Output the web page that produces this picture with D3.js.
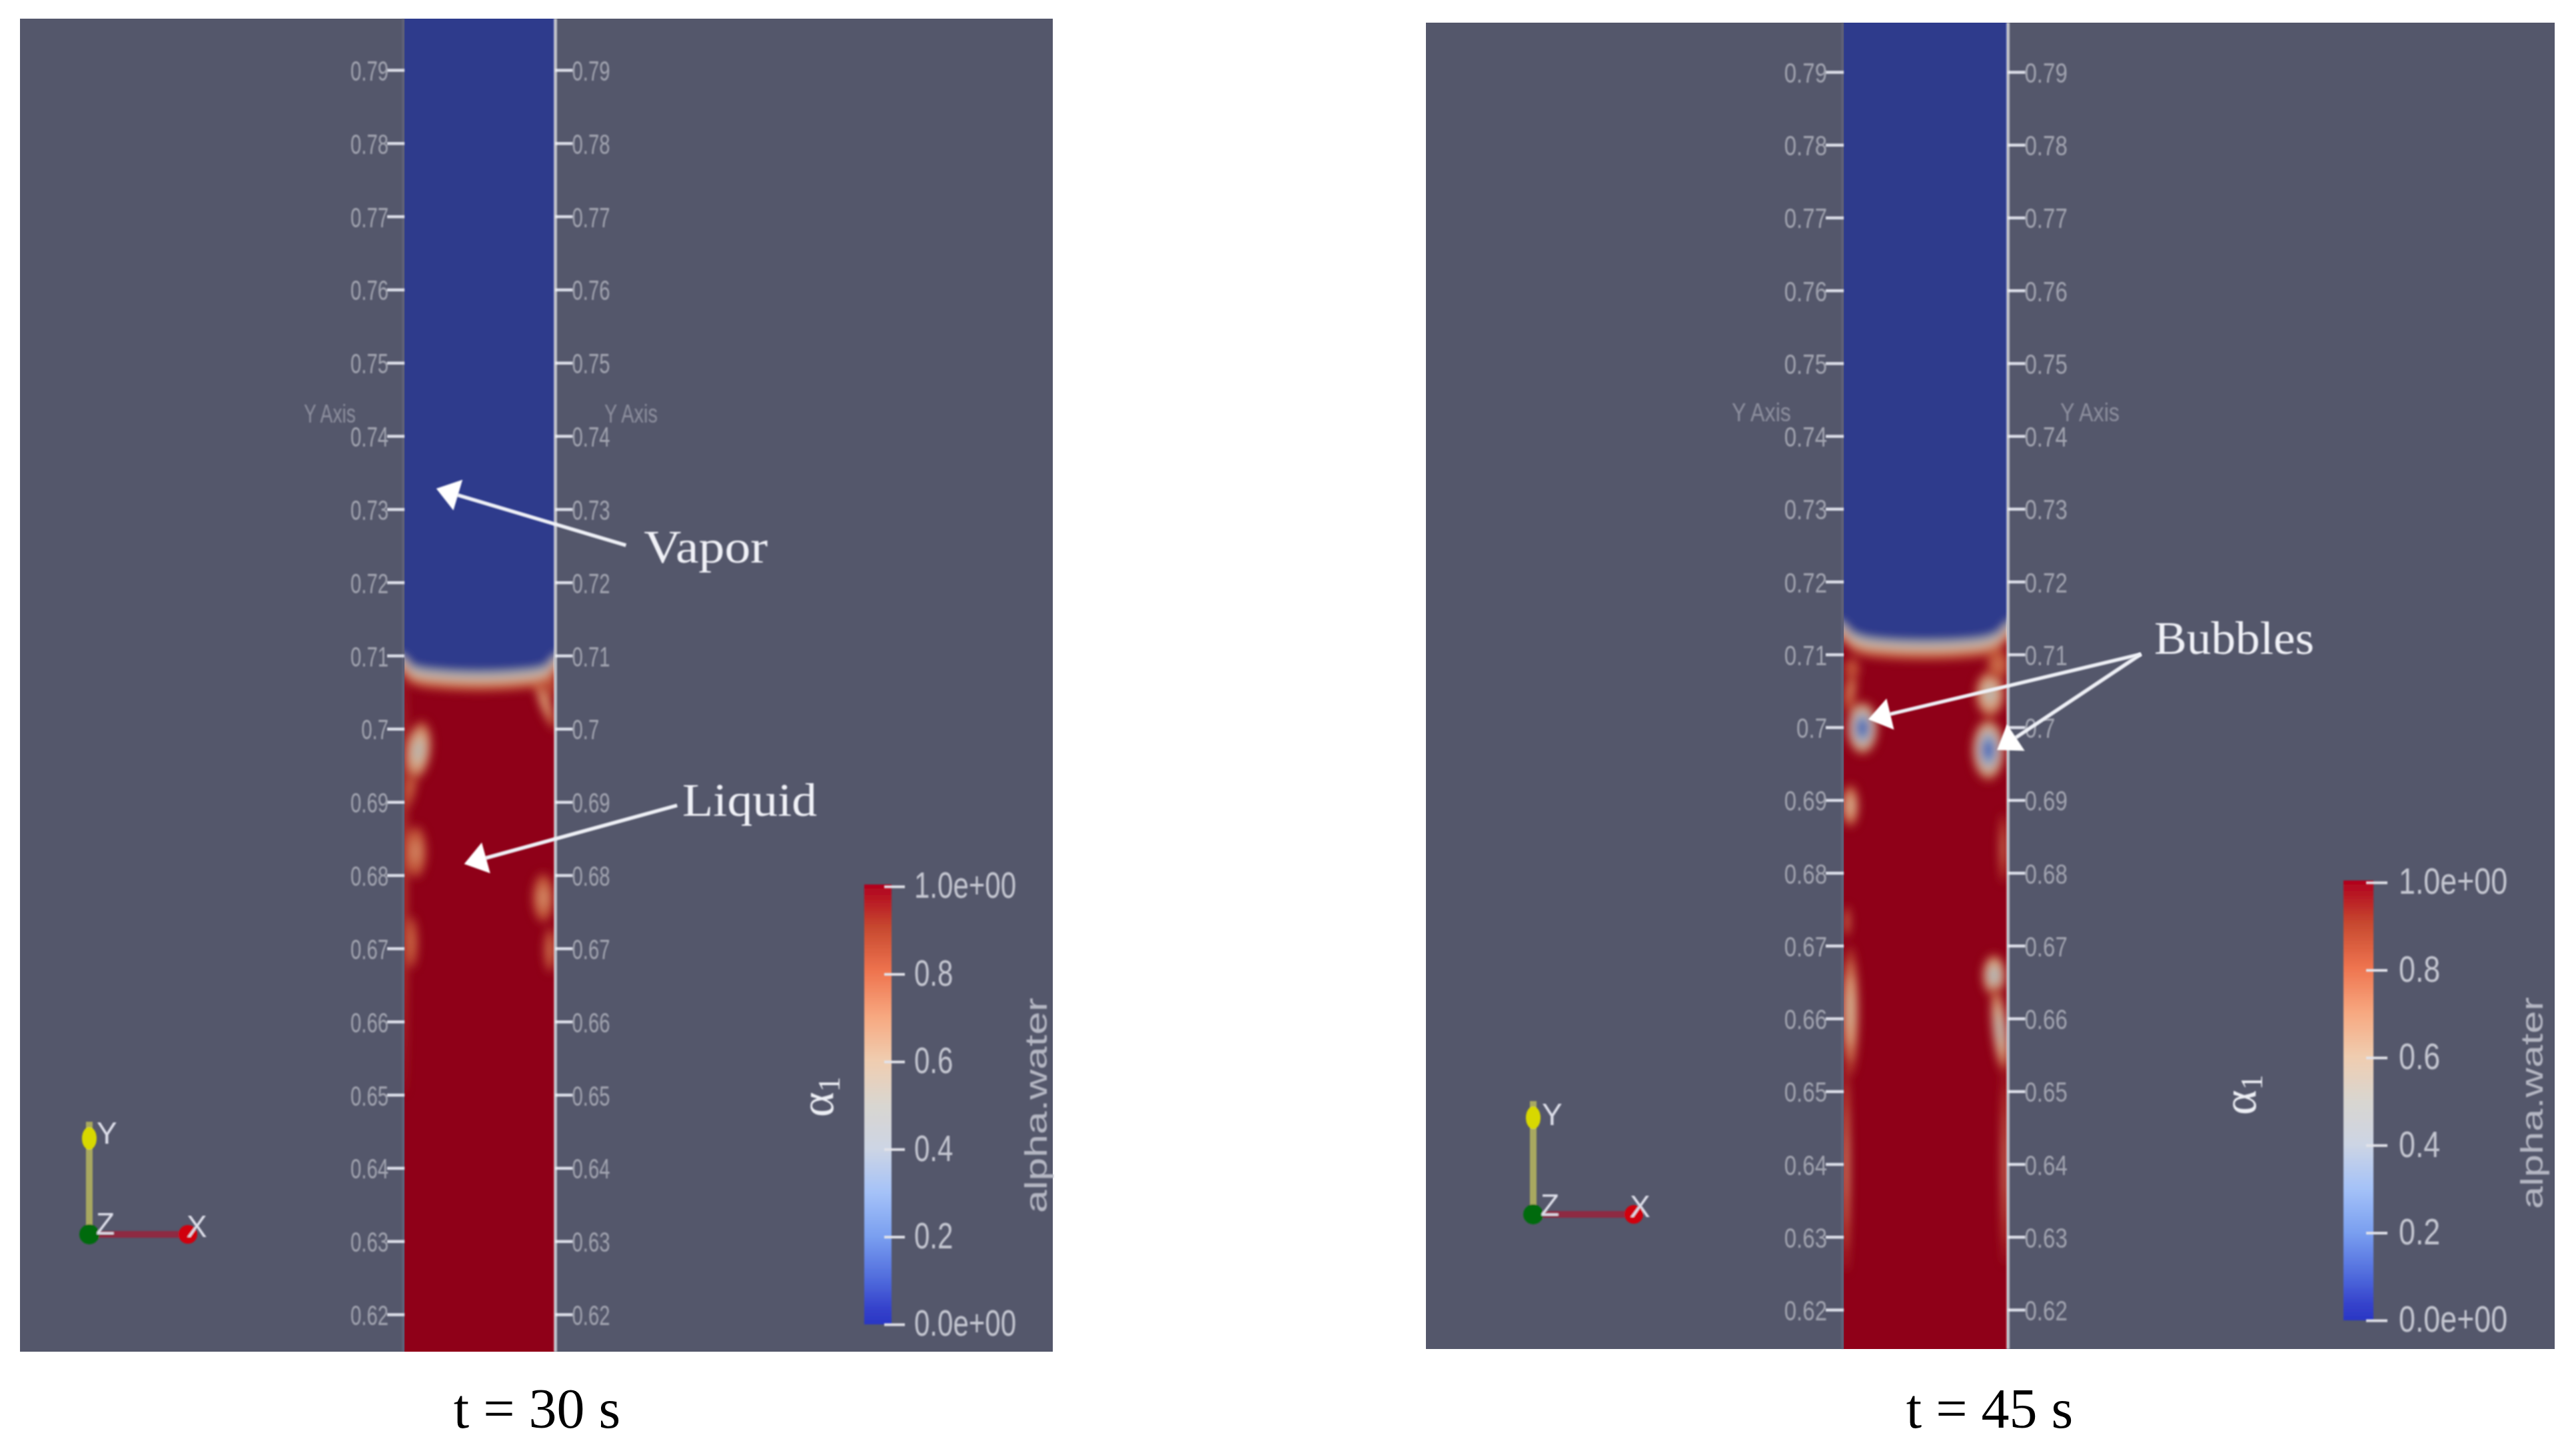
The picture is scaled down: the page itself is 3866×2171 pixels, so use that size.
<!DOCTYPE html>
<html><head><meta charset="utf-8">
<style>html,body{margin:0;padding:0;background:#fff}svg{display:block}</style>
<script src="https://cdn.jsdelivr.net/npm/d3@7/dist/d3.min.js"></script>
</head><body><svg id="c" width="3866" height="2171"></svg>
<script>
// ---- values ----
const yTickValues = [0.79,0.78,0.77,0.76,0.75,0.74,0.73,0.72,0.71,0.70,0.69,0.68,0.67,0.66,0.65,0.64,0.63,0.62];
const barTickValues = [0,0.2,0.4,0.6,0.8,1];
const barTickLabels = ["0.0e+00","0.2","0.4","0.6","0.8","1.0e+00"];
const barStops  = [0,0.04,0.1,0.2,0.3,0.4,0.5,0.6,0.7,0.8,0.9,1];
const barColors = ["#2a36c4","#3644cc","#4f6adc","#7a9ff0","#a5c2f8","#cdd5e4","#d9d6d0","#f0cdb0","#f7a880","#ef7550","#c84a30","#b0001e"];
const fieldLevels = [0,0.15,0.25,0.4,0.55,0.7,0.85,1];
const fieldColors = ["#2e3a8c","#4a6cc0","#6f90c8","#a3b0bb","#cbb8a0","#dba07c","#c4583a","#8f0018"];
// channel fraction, interface height
const ifaceX = [-0.1,0,0.05,0.2,0.5,0.8,0.95,1,1.1];
const ifaceA = [0.7105,0.7098,0.7086,0.7080,0.7077,0.7080,0.7086,0.7098,0.7105];
const ifaceB = [0.7150,0.7142,0.7130,0.7121,0.7118,0.7121,0.7130,0.7142,0.7150];
const bandOffsets = [-0.0026,-0.0015,-0.0007];
const bandAlphas  = [0.84,0.62,0.42];
// [x fraction, y, x radius, y radius, lowest alpha, tilt]
const blobsA = [
 [0.05,0.6925,0.035,0.0034,0.82,10],[0.093,0.6970,0.09,0.0042,0.47,8],[0.076,0.6832,0.075,0.0036,0.76,0],
 [0.05,0.6708,0.042,0.0036,0.82,0],[0.93,0.6769,0.075,0.0034,0.75,0],[0.975,0.6698,0.042,0.0031,0.8,0],
 [0.94,0.7036,0.042,0.0040,0.7,-20],[0.985,0.7065,0.03,0.0024,0.82,0],[0.0,0.68,0.016,0.03,0.82,0]];
const blobsB = [
 [0.115,0.6999,0.10,0.0038,0.1,0],[0.89,0.6969,0.105,0.0044,0.12,0],[0.90,0.7046,0.095,0.0033,0.48,0],
 [0.04,0.705,0.04,0.0030,0.78,8],[0.04,0.6892,0.055,0.0030,0.62,0],[0.98,0.6834,0.022,0.0048,0.76,0],
 [0.02,0.6733,0.022,0.0022,0.78,0],[0.04,0.661,0.055,0.0088,0.6,0],[0.925,0.6659,0.075,0.0030,0.4,0],
 [0.96,0.6585,0.05,0.0062,0.45,-6],[0.015,0.6397,0.024,0.0145,0.7,0],[0.99,0.6397,0.02,0.0135,0.72,0],
 [0.95,0.7086,0.07,0.0022,0.8,0],[0.05,0.708,0.05,0.0016,0.85,0]];
const vaporArrow  = [[1.484,0.72506],[0.213,0.73281]];
const liquidArrow = [[1.827,0.68954],[0.400,0.68153]];
const bubbleArrow1 = [[1.829,0.71005],[0.151,0.70108]];
const bubbleArrow2 = [[1.829,0.71005],[0.943,0.69687]];
const vaporLabel  = ["Vapor",1.604,0.7227];
const liquidLabel = ["Liquid",1.862,0.6881];
const bubbleLabel = ["Bubbles",1.91,0.7101];
const captions = ["t = 30 s","t = 45 s"];

// ---- layout ----
const BG="#54576b", BLUE="#2e3a8c", RED="#8f0018", TXT="#a2a4b0";
const panelLayout = [
 {x0:30,x1:1580,y0:28,y1:2028,cx0:607,cx1:831,yTop:105,yBot:1972,
  tl:26,tr:26,tf:0.71,tfr:0.71,lineW:5,yLab:[456,634,78],yLabR:[907,634,80],barF:0.75,
  bar:[1297,1338,1327,1987],tickBar:[1327,1358],barLab:[1376,1372],alpha:[1250,1648],aw:[1571,1497,1820],
  tri:{ox:134,oy:1852,top:1683,cone:1708,xe:282,Y:[145,1716],Z:[144,1852],X:[280,1856]},
  blobs:blobsA,iface:ifaceA,cap:[806,2142],id:"a"},
 {x0:2140,x1:3834,y0:34,y1:2024,cx0:2767,cx1:3011,yTop:108,yBot:1965,
  tl:27,tr:26,tf:0.8,tfr:0.8,lineW:5,yLab:[2599,632,89],yLabR:[3092,632,89],barF:0.8,
  bar:[3517,3562,1321,1981],tickBar:[3551,3583],barLab:[3606,3600],alpha:[3385,1645],aw:[3816,1496,1814],
  tri:{ox:2301,oy:1822,top:1652,cone:1677,xe:2452,Y:[2314,1688],Z:[2312,1824],X:[2446,1826]},
  blobs:blobsB,iface:ifaceB,cap:[2986,2142],id:"b"}];

const svg=d3.select("#c");
svg.append("rect").attr("width",3866).attr("height",2171).attr("fill","#fff");
const defs=svg.append("defs");
function blur(id,s){defs.append("filter").attr("id",id).attr("filterUnits","userSpaceOnUse")
  .attr("x",-4000).attr("y",-4000).attr("width",8000).attr("height",8000)
  .append("feGaussianBlur").attr("stdDeviation",s);}
blur("fieldBlur",7);blur("soft",1.3);blur("softer",0.9);
const grad=defs.append("linearGradient").attr("id","barGrad").attr("x1",0).attr("x2",0).attr("y1",1).attr("y2",0);
grad.selectAll("stop").data(barStops).join("stop").attr("offset",d=>d).attr("stop-color",(d,i)=>barColors[i]);
const fieldColor=d3.scaleLinear().domain(fieldLevels).range(fieldColors);
const SANS="'Liberation Sans',Arial,sans-serif", SERIF="'Liberation Serif','Times New Roman',serif";
function squeeze(sel,f){sel.each(function(){const n=this;n.setAttribute("textLength",n.getComputedTextLength()*f);n.setAttribute("lengthAdjust","spacingAndGlyphs");});}
const layerT=[1,0.78,0.55,0.3], layerA=[0,0.35,0.7,1];

panelLayout.forEach(p=>{
  const x=d3.scaleLinear().domain([0,1]).range([p.cx0,p.cx1]);
  const y=d3.scaleLinear().domain([0.79,0.62]).range([p.yTop,p.yBot]);
  const g=svg.append("g");
  g.append("rect").attr("x",p.x0).attr("y",p.y0).attr("width",p.x1-p.x0).attr("height",p.y1-p.y0).attr("fill",BG);
  // field
  defs.append("clipPath").attr("id","clip"+p.id).append("rect")
    .attr("x",p.cx0).attr("y",p.y0).attr("width",p.cx1-p.cx0+1).attr("height",p.y1-p.y0);
  const clip=g.append("g").attr("clip-path",`url(#clip${p.id})`);
  clip.append("rect").attr("x",p.cx0).attr("y",p.y0).attr("width",p.cx1-p.cx0+1).attr("height",p.y1-p.y0).attr("fill",RED);
  const f=clip.append("g").attr("filter","url(#fieldBlur)");
  const nested=p.blobs.flatMap(b=>layerT.map((t,i)=>({b,t,a:0.9+(b[4]-0.9)*layerA[i]})));
  f.selectAll("ellipse").data(nested).join("ellipse")
    .attr("transform",d=>`translate(${x(d.b[0])},${y(d.b[1])}) rotate(${d.b[5]})`)
    .attr("rx",d=>d.t*(x(d.b[2])-x(0))).attr("ry",d=>d.t*(y(0.79-d.b[3])-y(0.79)))
    .attr("fill",d=>fieldColor(d.a));
  const area=o=>d3.area().x((d,i)=>x(ifaceX[i])).y0(y(0.85)).y1(d=>y(d+o)).curve(d3.curveMonotoneX);
  f.selectAll("path.band").data(bandOffsets).join("path").attr("class","band")
    .attr("d",o=>area(o)(p.iface)).attr("fill",(o,i)=>fieldColor(bandAlphas[i]));
  f.append("path").attr("d",area(0)(p.iface)).attr("fill",BLUE);
  // left wall edge
  g.append("line").attr("x1",p.cx0-2).attr("x2",p.cx0-2).attr("y1",p.y0).attr("y2",p.y1)
    .attr("stroke","#7a7a98").attr("stroke-opacity",0.3).attr("stroke-width",4).attr("filter","url(#softer)");
  // axes
  const axL=g.append("g").attr("transform",`translate(${p.cx0},0)`)
    .call(d3.axisLeft(y).tickValues(yTickValues).tickSize(p.tl).tickPadding(-2).tickFormat(d=>String(+d.toFixed(2))));
  const rightX=p.cx1+p.lineW/2;
  const axR=g.append("g").attr("transform",`translate(${rightX},0)`)
    .call(d3.axisRight(y).tickValues(yTickValues).tickSize(p.tr).tickPadding(-1).tickFormat(d=>String(+d.toFixed(2))));
  [axL,axR].forEach((a,i)=>{
    a.select(".domain").remove();
    a.attr("filter","url(#soft)");
    a.selectAll("line").attr("stroke","#dcdee8").attr("stroke-width",4.5);
    a.selectAll("text").attr("fill",TXT).attr("font-family",SANS).attr("font-size",43).attr("dy","0.36em")
      .call(squeeze,(i?p.tfr:p.tf)*0.96);
  });
  g.append("line").attr("x1",rightX).attr("x2",rightX).attr("y1",p.y0).attr("y2",p.y1)
    .attr("stroke","#fff").attr("stroke-opacity",0.62).attr("stroke-width",p.lineW).attr("filter","url(#softer)");
  [p.yLab,p.yLabR].forEach(l=>{
    g.append("text").text("Y Axis").attr("x",l[0]).attr("y",l[1]).attr("fill","#8d8f9e")
      .attr("font-family",SANS).attr("font-size",38).attr("filter","url(#soft)")
      .attr("textLength",l[2]).attr("lengthAdjust","spacingAndGlyphs");
  });
  // colour bar
  const [bx0,bx1,by0,by1]=p.bar;
  g.append("rect").attr("x",bx0).attr("y",by0).attr("width",bx1-bx0).attr("height",by1-by0)
    .attr("fill","url(#barGrad)").attr("filter","url(#softer)");
  const bs=d3.scaleLinear().domain([0,1]).range([by1,by0+3]);
  const axB=g.append("g").attr("transform",`translate(${p.tickBar[0]},0)`)
    .call(d3.axisRight(bs).tickValues(barTickValues).tickSize(p.tickBar[1]-p.tickBar[0]).tickFormat((d,i)=>barTickLabels[i]).tickPadding(p.barLab[1]-p.tickBar[1]));
  axB.select(".domain").remove();
  axB.attr("filter","url(#soft)");
  axB.selectAll("line").attr("stroke","#e2e3ea").attr("stroke-width",4);
  axB.selectAll("text").attr("fill","#c4c6d0").attr("font-family",SANS).attr("font-size",56).attr("dy","0.3em").call(squeeze,p.barF);
  // colour-bar titles
  g.append("text").attr("transform",`translate(${p.aw[0]},${p.aw[2]}) rotate(-90)`).text("alpha.water")
    .attr("fill","#b4b6c2").attr("font-family",SANS).attr("font-size",46).attr("filter","url(#soft)")
    .attr("textLength",p.aw[2]-p.aw[1]).attr("lengthAdjust","spacingAndGlyphs");
  const at=g.append("text").attr("transform",`translate(${p.alpha[0]},${p.alpha[1]+28}) rotate(-90)`)
    .attr("fill","#eceef4").attr("font-family",SERIF).attr("font-size",72).attr("filter","url(#soft)");
  at.append("tspan").text("α");
  at.append("tspan").text("1").attr("font-size",46).attr("dy",10);
  // orientation triad
  const t=p.tri, tg=g.append("g").attr("filter","url(#soft)");
  tg.append("line").attr("x1",t.ox).attr("x2",t.ox).attr("y1",t.oy).attr("y2",t.top).attr("stroke","#a8a860").attr("stroke-width",10);
  tg.append("line").attr("x1",t.ox).attr("x2",t.xe).attr("y1",t.oy).attr("y2",t.oy).attr("stroke","#8e2a42").attr("stroke-width",10);
  tg.append("ellipse").attr("cx",t.ox).attr("cy",t.cone).attr("rx",11).attr("ry",17).attr("fill","#d8d800");
  tg.append("circle").attr("cx",t.xe).attr("cy",t.oy).attr("r",14).attr("fill","#d00010");
  tg.append("circle").attr("cx",t.ox).attr("cy",t.oy).attr("r",15).attr("fill","#006a10");
  [["Y",t.Y],["Z",t.Z],["X",t.X]].forEach(([s,q])=>{
    tg.append("text").text(s).attr("x",q[0]).attr("y",q[1]).attr("fill","#dcdde8").attr("font-family",SANS).attr("font-size",46);
  });
  // caption
  svg.append("text").text(captions[p.id==="a"?0:1]).attr("x",p.cap[0]).attr("y",p.cap[1]).attr("text-anchor","middle")
    .attr("fill","#000").attr("font-family",SERIF).attr("font-size",84);
  p.x=x;p.y=y;p.g=g;
});

// ---- annotations ----
function arrow(p,pts){
  const [tail,tip]=pts, a=[p.x(tail[0]),p.y(tail[1])], b=[p.x(tip[0]),p.y(tip[1])];
  const L=Math.hypot(a[0]-b[0],a[1]-b[1]), ux=(a[0]-b[0])/L, uy=(a[1]-b[1])/L, hl=34, hw=24;
  const n=p.g.append("g").attr("filter","url(#softer)");
  n.append("line").attr("x1",a[0]).attr("y1",a[1]).attr("x2",b[0]+ux*hl).attr("y2",b[1]+uy*hl)
    .attr("stroke","#eef0f6").attr("stroke-width",5.5);
  n.append("polygon").attr("fill","#fff").attr("points",[b,
    [b[0]+ux*hl-uy*hw,b[1]+uy*hl+ux*hw],[b[0]+ux*hl+uy*hw,b[1]+uy*hl-ux*hw]].map(q=>q.join(",")).join(" "));
}
function note(p,l,w){
  p.g.append("text").text(l[0]).attr("x",p.x(l[1])).attr("y",p.y(l[2])).attr("fill","#f0f1f7")
    .attr("font-family",SERIF).attr("font-size",70).attr("filter","url(#softer)")
    .attr("textLength",w).attr("lengthAdjust","spacingAndGlyphs");
}
const [PA,PB]=panelLayout;
arrow(PA,vaporArrow);arrow(PA,liquidArrow);arrow(PB,bubbleArrow1);arrow(PB,bubbleArrow2);
note(PA,vaporLabel,186);note(PA,liquidLabel,202);note(PB,bubbleLabel,240);
</script></body></html>
